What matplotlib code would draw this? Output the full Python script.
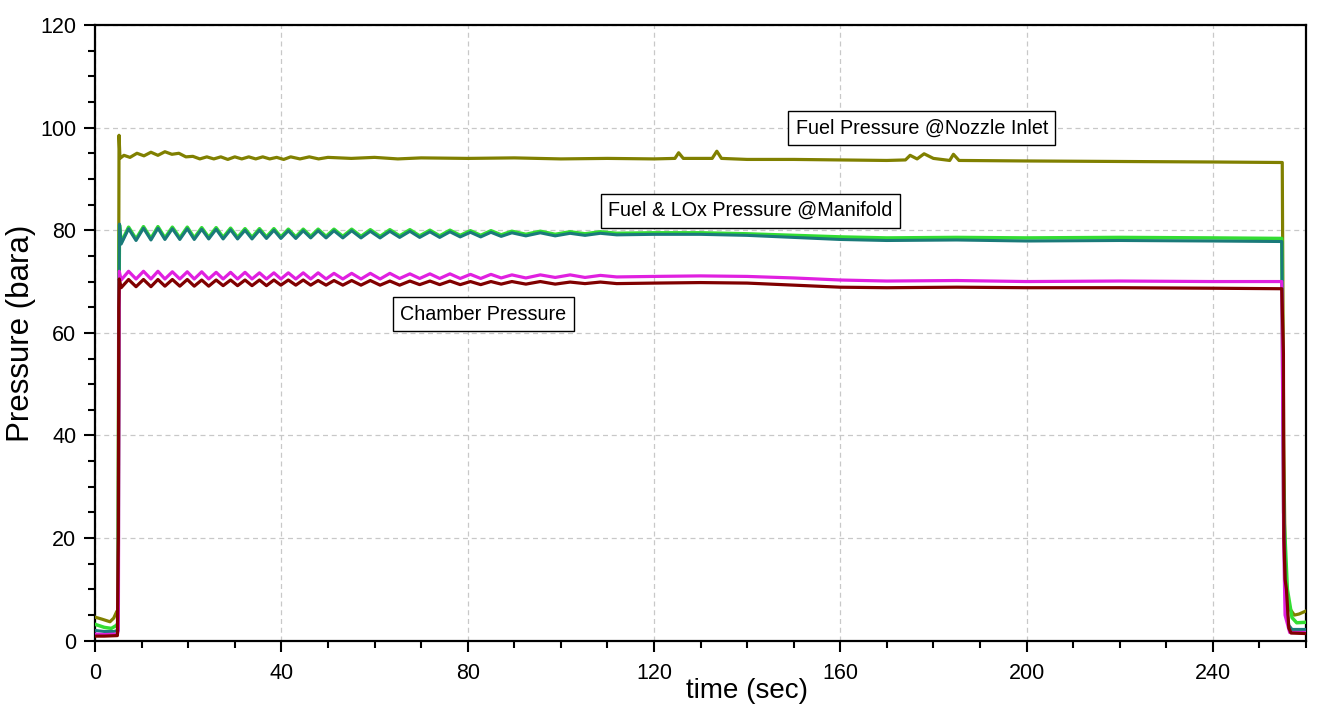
import numpy as np
import matplotlib
matplotlib.use("Agg")
import matplotlib.pyplot as plt
from matplotlib.ticker import MultipleLocator

plt.rcParams['font.family'] = ['Liberation Sans', 'DejaVu Sans']

# ---- shared time base of the oscillating phase (peaks / troughs, sec) ----
t_osc = [5.6, 7.2, 8.8, 10.4, 12.0, 13.5, 15.0, 16.6, 18.2, 19.8, 21.3, 22.9,
         24.4, 26.0, 27.5, 29.1, 30.6, 32.2, 33.7, 35.3, 36.8, 38.4, 39.9, 41.5,
         43.1, 44.7, 46.3, 47.9, 49.6, 51.3, 53.2, 55.1, 57.1, 59.1, 61.2, 63.3,
         65.4, 67.6, 69.7, 71.9, 74.0, 76.2, 78.4, 80.6, 82.8, 85.0, 87.2, 89.5,
         92.5, 95.6, 98.8, 102.0, 105.2, 108.5, 112.0,
         120, 130, 140, 150, 160, 170, 185, 200, 220, 240, 254.8]

# ---- LOx manifold pressure (teal) ----
teal_t0 = [0, 2, 4, 4.95, 5.1, 5.25]
teal_p0 = [2.0, 1.8, 1.8, 2.0, 60, 81.2]
teal_osc = [77.3, 80.3, 78.0, 80.4, 78.1, 80.4, 78.2, 80.3, 78.2, 80.3, 78.2, 80.2,
            78.3, 80.2, 78.3, 80.1, 78.3, 80.0, 78.3, 80.0, 78.4, 80.0, 78.4, 79.9,
            78.4, 79.9, 78.5, 79.9, 78.5, 79.9, 78.5, 79.9, 78.5, 79.8, 78.5, 79.8,
            78.6, 79.8, 78.6, 79.7, 78.6, 79.7, 78.7, 79.6, 78.7, 79.6, 78.8, 79.5,
            78.9, 79.5, 78.9, 79.4, 79.0, 79.4, 79.1,
            79.2, 79.2, 79.0, 78.6, 78.2, 78.0, 78.1, 77.9, 78.0, 77.9, 77.8]
teal_t1 = [255.2, 255.6, 256.3, 257.0, 260]
teal_p1 = [30, 8, 3.0, 2.2, 2.2]

# ---- Fuel manifold pressure (bright green) ----
green_t0 = [0, 2, 3.5, 4.6, 4.95, 5.1, 5.25]
green_p0 = [3.2, 2.6, 2.4, 3.0, 3.5, 60, 81.0]
green_osc = [77.6, 80.6, 78.3, 80.7, 78.4, 80.7, 78.5, 80.6, 78.5, 80.6, 78.5, 80.5,
             78.6, 80.5, 78.6, 80.4, 78.6, 80.3, 78.6, 80.3, 78.7, 80.3, 78.7, 80.2,
             78.7, 80.2, 78.8, 80.2, 78.8, 80.2, 78.8, 80.2, 78.8, 80.1, 78.8, 80.1,
             78.9, 80.1, 78.9, 80.0, 78.9, 80.0, 79.0, 79.9, 79.0, 79.9, 79.1, 79.8,
             79.2, 79.8, 79.2, 79.7, 79.3, 79.7, 79.4,
             79.5, 79.5, 79.3, 79.0, 78.7, 78.5, 78.6, 78.5, 78.6, 78.5, 78.4]
green_t1 = [255.2, 255.5, 256.0, 257.0, 258.0, 260]
green_p1 = [25, 20, 10, 4.5, 3.5, 3.6]

# ---- Chamber pressure (magenta) ----
mag_t0 = [0, 2, 4.8, 5.0, 5.2]
mag_p0 = [1.3, 1.2, 1.3, 2.0, 72.0]
mag_osc = [70.3, 72.0, 70.5, 72.0, 70.5, 72.0, 70.5, 71.9, 70.5, 71.9, 70.5, 71.9,
           70.5, 71.8, 70.5, 71.8, 70.5, 71.8, 70.5, 71.7, 70.5, 71.7, 70.5, 71.7,
           70.5, 71.7, 70.5, 71.7, 70.5, 71.6, 70.5, 71.6, 70.5, 71.6, 70.5, 71.6,
           70.6, 71.5, 70.6, 71.5, 70.6, 71.5, 70.6, 71.4, 70.6, 71.4, 70.7, 71.3,
           70.7, 71.3, 70.8, 71.3, 70.8, 71.2, 70.9,
           71.0, 71.1, 71.0, 70.7, 70.3, 70.1, 70.2, 70.0, 70.1, 70.0, 70.0]
mag_t1 = [255.2, 255.5, 256.5, 260]
mag_p1 = [20, 5, 1.6, 1.6]

# ---- second chamber pressure trace (dark red) ----
red_t0 = [0, 2, 4.8, 4.95, 5.0, 5.1, 5.2]
red_p0 = [0.9, 0.9, 1.0, 16, 20, 65, 70.5]
red_osc = [68.8, 70.4, 69.0, 70.4, 69.0, 70.4, 69.1, 70.4, 69.1, 70.4, 69.1, 70.3,
           69.1, 70.3, 69.2, 70.3, 69.2, 70.3, 69.2, 70.3, 69.2, 70.3, 69.3, 70.3,
           69.3, 70.3, 69.3, 70.2, 69.3, 70.2, 69.3, 70.2, 69.3, 70.2, 69.3, 70.1,
           69.3, 70.1, 69.4, 70.1, 69.4, 70.1, 69.4, 70.0, 69.4, 70.0, 69.5, 70.0,
           69.5, 70.0, 69.5, 69.9, 69.6, 69.9, 69.6,
           69.7, 69.8, 69.7, 69.3, 68.9, 68.8, 68.9, 68.8, 68.8, 68.7, 68.6]
red_t1 = [255.15, 255.25, 255.5, 255.8, 256.3, 256.8, 260]
red_p1 = [56, 20, 12, 10, 2.5, 1.5, 1.4]

# ---- Fuel pressure @ nozzle inlet (olive) ----
olive_t = [0, 1.5, 3.2, 4.0, 4.66, 4.95, 5.05, 5.15, 5.35, 6.2, 7.5, 9.0, 10.5,
           12, 13.5, 15, 16.5, 18, 19.5, 21, 22.5, 24, 25.5, 27, 28.5, 30, 31.5,
           33, 34.5, 36, 37.5, 39, 40.5, 42, 44, 46, 48, 50, 55, 60, 65, 70, 80,
           90, 100, 110, 120, 124.5, 125.3, 126.3, 132.5, 133.5, 134.5, 140, 150,
           160, 170, 174, 175, 176.5, 178, 180, 183.5, 184.3, 185.5, 200, 220,
           240, 254.9, 255.2, 255.6, 256.3, 257.5, 258.5, 260]
olive_p = [4.6, 4.2, 3.7, 4.4, 5.7, 6.0, 60, 98.5, 94.0, 94.6, 94.2, 95.0, 94.5,
           95.2, 94.6, 95.3, 94.8, 95.0, 94.3, 94.4, 93.9, 94.3, 93.9, 94.3, 93.8,
           94.3, 93.9, 94.3, 93.9, 94.3, 93.9, 94.2, 93.8, 94.3, 93.9, 94.3, 93.9,
           94.2, 94.0, 94.2, 93.9, 94.1, 94.0, 94.1, 93.9, 94.0, 93.9, 94.0, 95.1,
           94.0, 94.0, 95.4, 94.0, 93.8, 93.8, 93.7, 93.6, 93.7, 94.6, 93.9, 94.9,
           94.0, 93.6, 94.8, 93.6, 93.5, 93.4, 93.3, 93.2, 40, 10, 6.5, 5.0, 5.2, 5.8]

x_major = [0, 40, 80, 120, 160, 200, 240]
y_major = [0, 20, 40, 60, 80, 100, 120]

labels = ["Fuel Pressure @Nozzle Inlet", "Fuel & LOx Pressure @Manifold", "Chamber Pressure"]
label_pos = [(177.5, 99.9), (140.7, 83.8), (83.4, 63.6)]

fig = plt.figure(figsize=(13.22, 7.12), dpi=100)
ax = fig.add_axes([0.0719, 0.1001, 0.9160, 0.8648])

def series(t0, p0, p_osc, t1, p1):
    return np.concatenate([t0, t_osc, t1]), np.concatenate([p0, p_osc, p1])

ax.plot(olive_t, olive_p, color='#808000', lw=2.3, zorder=3)
tx, px = series(green_t0, green_p0, green_osc, green_t1, green_p1)
ax.plot(tx, px, color='#33dd33', lw=2.5, zorder=3)
tx, px = series(teal_t0, teal_p0, teal_osc, teal_t1, teal_p1)
ax.plot(tx, px, color='#1a7a7a', lw=2.2, zorder=3)
tx, px = series(mag_t0, mag_p0, mag_osc, mag_t1, mag_p1)
ax.plot(tx, px, color='#e020e0', lw=2.3, zorder=3)
tx, px = series(red_t0, red_p0, red_osc, red_t1, red_p1)
ax.plot(tx, px, color='#800000', lw=2.3, zorder=3)

ax.set_xlim(0, 260)
ax.set_ylim(0, 120)
ax.set_xticks(x_major)
ax.set_yticks(y_major)
ax.xaxis.set_minor_locator(MultipleLocator(10))
ax.yaxis.set_minor_locator(MultipleLocator(5))
ax.tick_params(which='major', direction='out', length=8, width=1.5, labelsize=15.5, pad=8,
               top=False, right=False)
ax.tick_params(axis='y', which='major', pad=5.5)
ax.tick_params(which='minor', direction='out', length=5, width=1.5, top=False, right=False)
for s in ax.spines.values():
    s.set_linewidth(1.6)
ax.grid(True, which='major', color='#c8c8c8', linestyle=(0, (4, 3)), linewidth=0.9)
ax.set_axisbelow(True)

ax.set_xlabel("time (sec)", fontsize=20)
ax.xaxis.set_label_coords(0.538, -0.06)
ax.set_ylabel("Pressure (bara)", fontsize=22.5)
ax.yaxis.set_label_coords(-0.049, 0.5)

for txt, (xx, yy) in zip(labels, label_pos):
    ax.text(xx, yy, txt, ha='center', va='center', fontsize=14.2, zorder=5,
            bbox=dict(boxstyle='square,pad=0.38', fc='white', ec='black', lw=1.0))

fig.savefig("out.png", dpi=100)
